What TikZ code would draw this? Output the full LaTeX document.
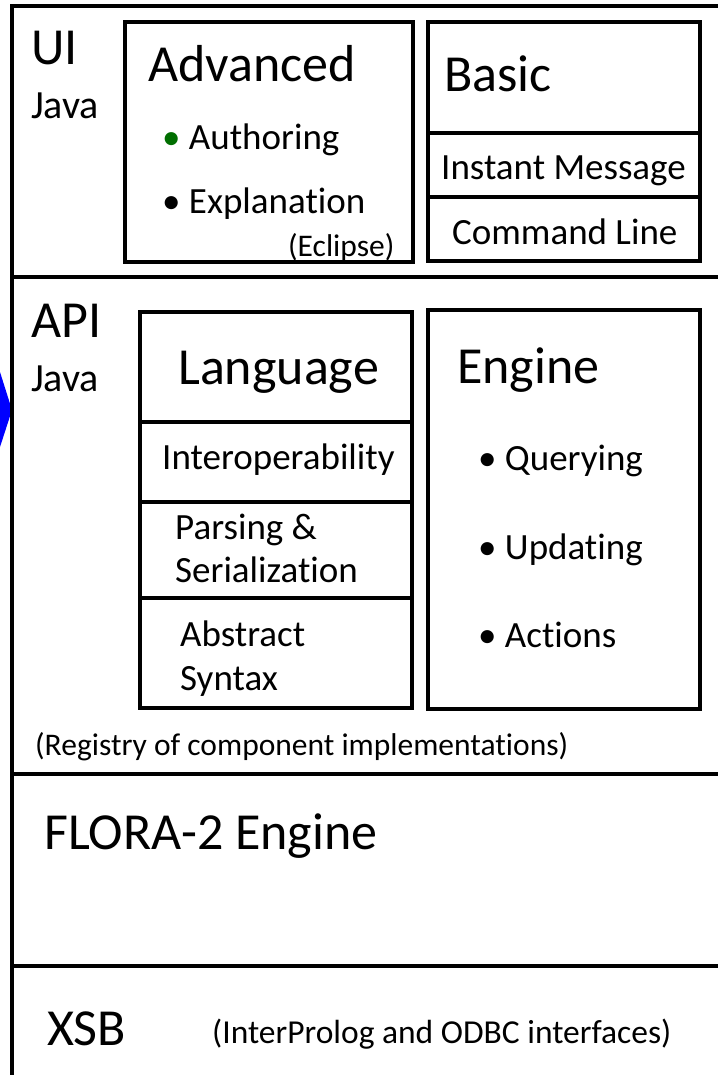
\documentclass[tikz,border=0pt]{standalone}
\usepackage{fontspec}
\setmainfont[Ligatures=NoCommon]{Carlito}
\definecolor{bulletgreen}{RGB}{0,110,0}
\begin{document}
\begin{tikzpicture}[x=1pt,y=-1pt,
  frame/.style={line width=4.2pt, line cap=rect},
  boxline/.style={line width=3.8pt},
  big/.style={anchor=base west, inner sep=0pt, font=\fontsize{52}{60}\selectfont},
  mid/.style={anchor=base west, inner sep=0pt, font=\fontsize{37}{44}\selectfont},
  small/.style={anchor=base west, inner sep=0pt, font=\fontsize{31.5}{37}\selectfont},
  java/.style={anchor=base west, inner sep=0pt, font=\fontsize{40}{48}\selectfont}]
\useasboundingbox (0,0) rectangle (717,1075);
% blue marker at left edge
\fill[blue] (0,372) -- (12,410) -- (0,447) -- cycle;
% outer frame and layer separators
\draw[frame] (12,1080) -- (12,6) -- (720,6);
\draw[frame] (12,277) -- (720,277);
\draw[frame] (12,774) -- (720,774);
\draw[frame] (12,966) -- (720,966);
% UI layer
\node[big] (ui) at (31,65) {UI};
\node[java] (uijava) at (31,119) {Java};
\draw[boxline] (125,22) rectangle (413,262);
\node[big] (adv) at (148,82) {Advanced};
\node[mid] (auth) at (162,150) {\textcolor{bulletgreen}{•} Authoring};
\node[mid] (expl) at (162,214) {• Explanation};
\node[small] (ecl) at (288,256) {(Eclipse)};
\draw[boxline] (428,22) rectangle (700,261);
\draw[boxline] (428,133) -- (700,133);
\draw[boxline] (428,197) -- (700,197);
\node[big] (basic) at (444,92) {Basic};
\node[mid] (im) at (441,180) {Instant Message};
\node[mid] (cl) at (452,244) {Command Line};
% API layer
\node[big] (api) at (31,337) {API};
\node[java] (apijava) at (31,391) {Java};
\draw[boxline] (140,312) rectangle (412,708);
\draw[boxline] (140,422) -- (412,422);
\draw[boxline] (140,502) -- (412,502);
\draw[boxline] (140,598) -- (412,598);
\node[big] (lang) at (178,384) {Language};
\node[mid] (interop) at (162,469) {Interoperability};
\node[mid] (pars) at (175,539) {Parsing \&};
\node[mid] (ser) at (175,582) {Serialization};
\node[mid] (abs) at (180,646) {Abstract};
\node[mid] (syn) at (180,690) {Syntax};
\draw[boxline] (428,310) rectangle (700,709);
\node[big] (eng) at (457,383) {Engine};
\node[mid] (qry) at (478,470) {• Querying};
\node[mid] (upd) at (478,559) {• Updating};
\node[mid] (act) at (478,647) {• Actions};
\node[small] (reg) at (35,755) {(Registry of component implementations)};
% FLORA-2 layer
\node[big] (flora) at (44,849) {FLORA-2 Engine};
% XSB layer
\node[big] (xsb) at (47,1045) {XSB};
\node[small, font=\fontsize{33.5}{40}\selectfont] (ip) at (212,1043) {(InterProlog and ODBC interfaces)};
\end{tikzpicture}
\end{document}
